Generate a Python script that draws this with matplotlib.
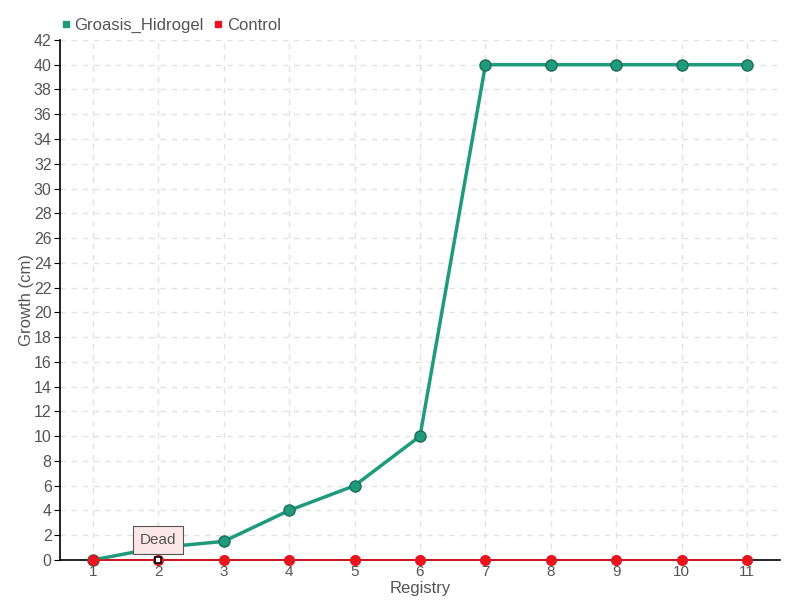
import matplotlib
matplotlib.use("Agg")
import matplotlib.pyplot as plt
from matplotlib.lines import Line2D

plt.rcParams['font.family'] = ['Liberation Sans', 'DejaVu Sans']

# data
registry = [1, 2, 3, 4, 5, 6, 7, 8, 9, 10, 11]
groasis = [0, 1, 1.5, 4, 6, 10, 40, 40, 40, 40, 40]
control = [0, 0, 0, 0, 0, 0, 0, 0, 0, 0, 0]
y_ticks = list(range(0, 43, 2))

green = '#1f9a7c'
red = '#e8141e'
txt = '#555555'

fig = plt.figure(figsize=(8, 6), dpi=100)
ax = fig.add_axes([0.075, 0.0667, 0.9, 0.8667])

ax.plot(registry, groasis, color=green, linewidth=2.5, marker='o', markersize=8,
        markerfacecolor=green, markeredgecolor='#1a6e55', markeredgewidth=1,
        zorder=3, clip_on=False)
ax.plot(registry, control, color=red, linewidth=1.2, marker='o', markersize=7,
        markerfacecolor=red, markeredgecolor=red, zorder=4, clip_on=False)

# "Dead" tooltip on the control point at registry 2
ax.plot([2], [0], marker='s', markersize=5, markerfacecolor='white',
        markeredgecolor='black', markeredgewidth=1.2, zorder=6, clip_on=False)
ax.annotate('Dead', xy=(2, 0.2), xytext=(2, 1.6), ha='center', va='center',
            fontsize=11, color=txt, zorder=7,
            bbox=dict(boxstyle='square,pad=0.45', fc='#fde6e6', ec='#555555', lw=0.8),
            arrowprops=dict(arrowstyle='-', color='#555555', lw=0.8))

ax.set_xlim(0.5, 11.5)
ax.set_ylim(0, 42)
ax.set_xticks(registry)
ax.set_yticks(y_ticks)
ax.tick_params(axis='both', labelsize=11.5, colors=txt, length=4)
ax.tick_params(axis='x', length=0, pad=3.5, labelsize=11)
ax.tick_params(axis='y', color='black', pad=2)

ax.grid(True, linestyle=(0, (4, 4)), color='#e2e2e2', linewidth=1)
ax.set_axisbelow(True)
for s in ['top', 'right']:
    ax.spines[s].set_visible(False)
ax.spines['left'].set_linewidth(1.2)
ax.spines['bottom'].set_linewidth(1.2)

ax.set_xlabel('Registry', fontsize=12, color=txt)
ax.xaxis.set_label_coords(0.5, -0.04)
ax.set_ylabel('Growth (cm)', fontsize=12, color=txt)
ax.yaxis.set_label_coords(-0.036, 0.5)

handles = [Line2D([], [], linestyle='none', marker='s', markersize=5, color=green),
           Line2D([], [], linestyle='none', marker='s', markersize=5, color=red)]
fig.legend(handles, ['Groasis_Hidrogel', 'Control'], loc='upper left',
           bbox_to_anchor=(0.055, 0.995), ncol=2, frameon=False, fontsize=12,
           handletextpad=0.1, columnspacing=0.5, handlelength=0.8, labelcolor=txt)

fig.savefig('out.png', dpi=100)
